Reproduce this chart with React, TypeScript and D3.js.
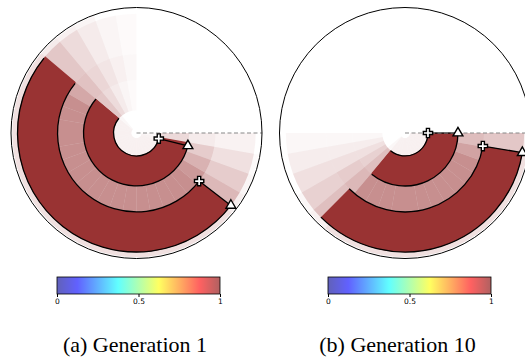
import React, { useEffect, useRef } from "react";
import * as d3 from "d3";

// radial band edges, as a fraction of the plot radius
const bandEdges = [0.04, 0.18, 0.42, 0.63, 0.95, 0.99];
// angle bins are 10 deg wide, counted counter-clockwise from the dashed line
const binStep = 10;

// Generation 1: density per band, one value per 10 deg bin (0..350)
const gen1Hole = [0,0,0,0,0,0,0,0,0,0,0,0,0,.03,.06,.06,.06,.06,.06,.06,.06,.06,.06,.06,.06,.06,.06,.06,.06,.06,.06,.06,.06,.06,.05,.03];
const gen1Inner = [0,0,0,0,0,0,0,0,0,.02,.04,.08,.14,.22,.8,.8,.8,.8,.8,.8,.8,.8,.8,.8,.8,.8,.8,.8,.8,.8,.8,.8,.8,.8,.8,.15];
const gen1Middle = [0,0,0,0,0,0,0,0,0,.03,.06,.1,.16,.24,.34,.44,.44,.44,.44,.44,.44,.44,.44,.44,.44,.44,.44,.44,.44,.44,.44,.44,.4,.3,.2,.08];
const gen1Outer = [0,0,0,0,0,0,0,0,0,.02,.04,.08,.14,.22,.8,.8,.8,.8,.8,.8,.8,.8,.8,.8,.8,.8,.8,.8,.8,.8,.8,.8,.28,.2,.12,.05];
const gen1Rim = [0,0,0,0,0,0,0,0,0,0,0,.04,.06,.08,.12,.12,.12,.12,.12,.12,.12,.12,.12,.12,.12,.12,.12,.12,.12,.12,.12,.12,.07,.04,.02,0];

// Generation 10
const gen10Hole = [0,0,0,0,0,0,0,0,0,0,0,0,0,0,0,0,0,0,0,0,0,0,.03,.06,.06,.06,.06,.06,.06,.06,.06,.06,.06,.06,.06,.06];
const gen10Inner = [0,0,0,0,0,0,0,0,0,0,0,0,0,0,0,0,0,0,.03,.07,.12,.18,.25,.8,.8,.8,.8,.8,.8,.8,.8,.8,.8,.8,.8,.8];
const gen10Middle = [0,0,0,0,0,0,0,0,0,0,0,0,0,0,0,0,0,0,.03,.07,.12,.2,.28,.44,.44,.44,.44,.44,.44,.44,.44,.44,.44,.44,.36,.26];
const gen10Outer = [0,0,0,0,0,0,0,0,0,0,0,0,0,0,0,0,0,0,.03,.07,.12,.18,.25,.8,.8,.8,.8,.8,.8,.8,.8,.8,.8,.8,.8,.22];
const gen10Rim = [0,0,0,0,0,0,0,0,0,0,0,0,0,0,0,0,0,0,0,0,0,.03,.06,.12,.12,.12,.12,.12,.12,.12,.12,.12,.12,.12,.12,.05];

// the two links (radii as fraction of plot radius, angles in degrees)
const gen1Links = [
  { inner: 0.183, outer: 0.422, start: 140, end: 346 },
  { inner: 0.629, outer: 0.948, start: 141, end: 322.5 },
];
const gen10Links = [
  { inner: 0.183, outer: 0.422, start: 231, end: 360 },
  { inner: 0.629, outer: 0.948, start: 225, end: 350.5 },
];

// colorbar
const cbarTicks = [0, 0.5, 1];
const jetStops = [0, 0.125, 0.375, 0.625, 0.875, 1];
const jetColors = ["#00008f", "#0000ff", "#00ffff", "#ffff00", "#ff0000", "#800000"];

const captions = ["(a) Generation 1", "(b) Generation 10"];

export default function App() {
  const ref = useRef<SVGSVGElement>(null);

  useEffect(() => {
    const svg = d3.select(ref.current);
    svg.selectAll("*").remove();

    const R = 125.5;
    const cy = 133;
    const r = d3.scaleLinear().domain([0, 1]).range([0, R]);
    // math angle (deg, ccw from east) -> d3.arc angle (rad, cw from north)
    const rad = (deg: number) => ((90 - deg) * Math.PI) / 180;
    const pt = (rr: number, deg: number) => [
      r(rr) * Math.cos((deg * Math.PI) / 180),
      -r(rr) * Math.sin((deg * Math.PI) / 180),
    ];

    const jet = d3.scaleLinear<string>().domain(jetStops).range(jetColors);
    const grad = svg.append("defs").append("linearGradient").attr("id", "jet");
    d3.range(0, 1.0001, 0.025).forEach((t) =>
      grad.append("stop").attr("offset", t).attr("stop-color", jet(t))
    );

    const panels = [
      { cx: 136.5, bands: [gen1Hole, gen1Inner, gen1Middle, gen1Outer, gen1Rim], links: gen1Links, bar: 57, cap: 135 },
      { cx: 405, bands: [gen10Hole, gen10Inner, gen10Middle, gen10Outer, gen10Rim], links: gen10Links, bar: 328, cap: 397.5 },
    ];

    panels.forEach((p, pi) => {
      const g = svg.append("g").attr("transform", `translate(${p.cx},${cy})`);

      // density cells
      const cells: { i: number; k: number; a: number }[] = [];
      p.bands.forEach((row, i) => row.forEach((a, k) => { if (a > 0) cells.push({ i, k, a }); }));
      const cellArc = d3.arc<any>()
        .innerRadius((d) => r(bandEdges[d.i]))
        .outerRadius((d) => r(bandEdges[d.i + 1]))
        .startAngle((d) => rad((d.k + 1) * binStep))
        .endAngle((d) => rad(d.k * binStep));
      g.selectAll(".cell").data(cells).enter().append("path")
        .attr("d", cellArc)
        .attr("fill", "#800000")
        .attr("fill-opacity", (d) => d.a);

      // links (solid)
      const linkArc = d3.arc<any>()
        .innerRadius((d) => r(d.inner))
        .outerRadius((d) => r(d.outer))
        .startAngle((d) => rad(d.end))
        .endAngle((d) => rad(d.start));
      g.selectAll(".link").data(p.links).enter().append("path")
        .attr("d", linkArc)
        .attr("fill", "#993333");

      // outline arcs + end edge
      p.links.forEach((l) => {
        [l.inner, l.outer].forEach((rr) => {
          const path = d3.path();
          const a0 = (-l.start * Math.PI) / 180;
          const a1 = (-l.end * Math.PI) / 180;
          path.moveTo(r(rr) * Math.cos(a0), r(rr) * Math.sin(a0));
          path.arc(0, 0, r(rr), a0, a1, true);
          g.append("path").attr("d", path.toString())
            .attr("fill", "none").attr("stroke", "#000").attr("stroke-width", 1.3);
        });
        const [x0, y0] = pt(l.inner, l.end);
        const [x1, y1] = pt(l.outer, l.end);
        g.append("line").attr("x1", x0).attr("y1", y0).attr("x2", x1).attr("y2", y1)
          .attr("stroke", "#000").attr("stroke-width", 1.3);
      });

      // dashed reference line and boundary circle
      g.append("line").attr("x1", 0).attr("y1", 0).attr("x2", R).attr("y2", 0)
        .attr("stroke", "#888").attr("stroke-width", 1.1).attr("stroke-dasharray", "4,2.5");
      g.append("circle").attr("r", R).attr("fill", "none").attr("stroke", "#000").attr("stroke-width", 1);

      // joint markers
      p.links.forEach((l) => {
        const [x0, y0] = pt(l.inner, l.end);
        const [x1, y1] = pt(l.outer, l.end);
        g.append("path").attr("d", d3.symbol().type(d3.symbolCross).size(48)())
          .attr("transform", `translate(${x0},${y0})`)
          .attr("fill", "#fff").attr("stroke", "#000").attr("stroke-width", 1.4);
        g.append("path").attr("d", d3.symbol().type(d3.symbolTriangle).size(42)())
          .attr("transform", `translate(${x1},${y1})`)
          .attr("fill", "#fff").attr("stroke", "#000").attr("stroke-width", 1.4);
      });

      // colorbar
      const barW = 163, barY = 277, barH = 17;
      const x = d3.scaleLinear().domain([0, 1]).range([p.bar, p.bar + barW]);
      svg.append("rect").attr("x", p.bar).attr("y", barY).attr("width", barW).attr("height", barH)
        .attr("fill", "url(#jet)").attr("fill-opacity", 0.62)
        .attr("stroke", "#000").attr("stroke-width", 0.8);
      const ax = svg.append("g").attr("transform", `translate(0,${barY + barH})`)
        .call(d3.axisBottom(x).tickValues(cbarTicks).tickSize(3).tickPadding(2).tickFormat(d3.format("~g")));
      ax.select(".domain").remove();
      ax.selectAll("text").attr("font-size", 7.5).style("font-family", "'DejaVu Sans', sans-serif").attr("fill", "#000");

      // caption
      svg.append("text").attr("x", p.cap).attr("y", 352)
        .attr("text-anchor", "middle")
        .style("font-family", "'Liberation Serif', 'DejaVu Serif', serif")
        .style("font-size", "22px")
        .attr("fill", "#000")
        .text(captions[pi]);
    });
  }, []);

  return (
    <svg
      ref={ref}
      width={525}
      height={363}
      style={{ position: "absolute", left: 0, top: 0, background: "#fff" }}
    />
  );
}
